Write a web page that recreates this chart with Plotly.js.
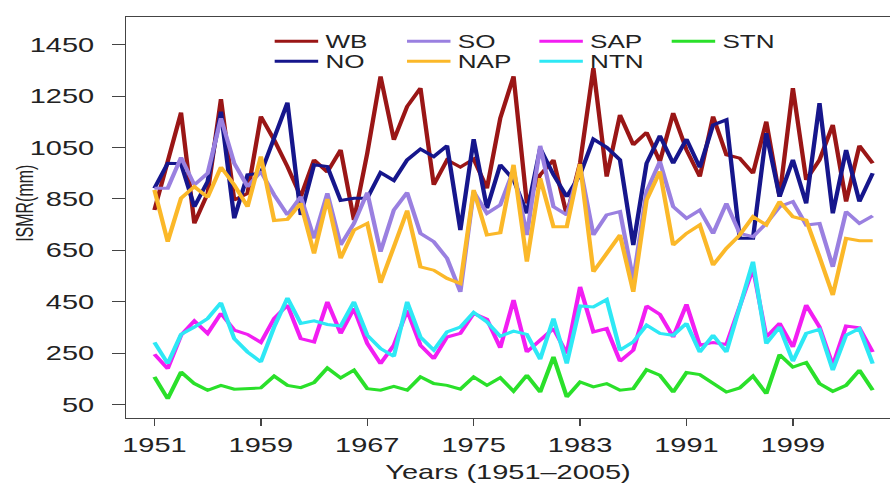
<!DOCTYPE html>
<html><head><meta charset="utf-8">
<script src="https://cdn.plot.ly/plotly-3.0.1.min.js"></script>
<style>
html,body{margin:0;padding:0;overflow:hidden;background:#fff;}
#wrap{width:890px;height:483px;overflow:hidden;}
#chart{width:614px;height:483px;transform:scaleX(1.4495);transform-origin:0 0;}
</style></head><body><div id="wrap"><div id="chart"></div></div>
<script>
const years=[1951,1952,1953,1954,1955,1956,1957,1958,1959,1960,1961,1962,1963,1964,1965,1966,1967,1968,1969,1970,1971,1972,1973,1974,1975,1976,1977,1978,1979,1980,1981,1982,1983,1984,1985,1986,1987,1988,1989,1990,1991,1992,1993,1994,1995,1996,1997,1998,1999,2000,2001,2002,2003,2004,2005];
const xTicks=[1951,1959,1967,1975,1983,1991,1999];
const yTicks=[50,250,450,650,850,1050,1250,1450];
const WB=[807,1002,1186,755,872,1238,846,872,1171,1080,976,859,1002,955,1041,768,1028,1327,1080,1210,1281,905,1002,974,1005,892,1164,1327,833,944,1002,788,990,1359,937,1177,1061,1109,996,1184,1041,937,1171,1022,1009,950,1151,859,1281,924,1002,1138,840,1057,989];
const NO=[892,989,987,820,918,1190,775,944,950,1093,1225,788,983,976,844,853,853,953,922,1002,1044,1015,1057,729,1083,814,983,925,794,1047,944,859,944,1083,1051,1002,671,989,1096,989,1083,973,1138,1158,697,697,1106,859,1002,833,1223,794,1041,840,950];
const SO=[892,892,1012,905,950,1164,989,898,957,866,788,859,697,872,671,755,875,645,807,875,716,684,619,489,879,794,827,963,710,1057,820,788,976,710,788,801,534,879,996,820,775,807,716,833,716,703,755,820,840,749,755,586,801,755,784];
const NAP=[885,684,853,898,857,974,905,820,1015,766,771,833,638,850,619,729,755,524,664,805,586,573,541,521,885,710,719,983,606,931,742,742,986,567,638,710,489,846,957,671,716,749,593,658,710,781,749,840,781,768,625,476,697,688,688];
const SAP=[246,190,320,376,327,405,340,323,292,385,437,307,294,450,327,424,288,210,281,417,281,229,313,327,405,382,271,457,255,301,346,249,508,333,346,219,262,434,401,313,440,281,292,284,437,580,313,366,274,437,352,203,356,349,255];
const NTN=[292,210,323,352,385,446,307,255,216,352,465,366,376,362,356,450,320,268,238,450,313,262,333,352,409,372,316,336,323,227,385,210,434,430,459,262,294,359,327,320,366,255,320,255,430,606,288,352,219,327,343,184,320,346,210];
const STN=[158,73,177,132,106,125,110,112,115,161,125,116,136,193,154,184,112,106,121,106,158,132,125,110,158,125,155,102,164,99,236,80,138,119,132,106,112,186,164,99,175,167,132,99,115,161,93,245,196,214,132,102,125,184,106];

const series=[
  {name:'WB', y:WB, color:'#9a1616', legend:'legend'},
  {name:'NO', y:NO, color:'#16168c', legend:'legend2'},
  {name:'SO', y:SO, color:'#9a80e0', legend:'legend'},
  {name:'NAP', y:NAP, color:'#fbb829', legend:'legend2'},
  {name:'SAP', y:SAP, color:'#f21ef2', legend:'legend'},
  {name:'NTN', y:NTN, color:'#2ee8f5', legend:'legend2'},
  {name:'STN', y:STN, color:'#2ae02a', legend:'legend'}
];
const traces=series.map(s=>({type:'scatter',mode:'lines',x:years,y:s.y,name:s.name,legend:s.legend,
  line:{color:s.color,width:3}}));

const FONT='Liberation Sans, Arial, sans-serif';
const legBase={orientation:'h',xanchor:'left',yanchor:'middle',x:0.185,entrywidth:46.3,entrywidthmode:'pixels',
  bgcolor:'rgba(0,0,0,0)',borderwidth:0,font:{family:FONT,size:18,color:'#222'},itemclick:false};
const layout={
  width:614,height:483,
  margin:{l:87.4,r:0,t:17.3,b:65.3},
  paper_bgcolor:'#fff',plot_bgcolor:'#fff',
  font:{family:FONT,color:'#222'},
  showlegend:true,
  legend:Object.assign({},legBase,{y:0.939}),
  legend2:Object.assign({},legBase,{y:0.889}),
  xaxis:{range:[1948.87,2006.3],tickmode:'array',tickvals:xTicks,ticktext:xTicks.map(String),
    ticks:'outside',ticklen:7,tickwidth:1,tickcolor:'#444',showline:true,linecolor:'#444',linewidth:1,mirror:true,
    showgrid:false,zeroline:false,tickfont:{family:FONT,size:20,color:'#222'},ticklabelstandoff:2,
    title:{text:'Years (1951–2005)',font:{family:FONT,size:20,color:'#222'},standoff:10}},
  yaxis:{range:[-2,1558],tickmode:'array',tickvals:yTicks,ticktext:yTicks.map(String),
    ticks:'outside',ticklen:9,tickwidth:1,tickcolor:'#444',showline:true,linecolor:'#444',linewidth:1,
    showgrid:false,zeroline:false,tickfont:{family:FONT,size:20,color:'#222'},ticklabelstandoff:8},
  annotations:[{text:'ISMR(mm)',textangle:-90,xref:'paper',yref:'paper',x:-0.1332,y:0.536,
    xanchor:'center',yanchor:'middle',showarrow:false,font:{family:FONT,size:16,color:'#222'}}]
};
Plotly.newPlot('chart',traces,layout,{staticPlot:true,displayModeBar:false});
</script></body></html>
